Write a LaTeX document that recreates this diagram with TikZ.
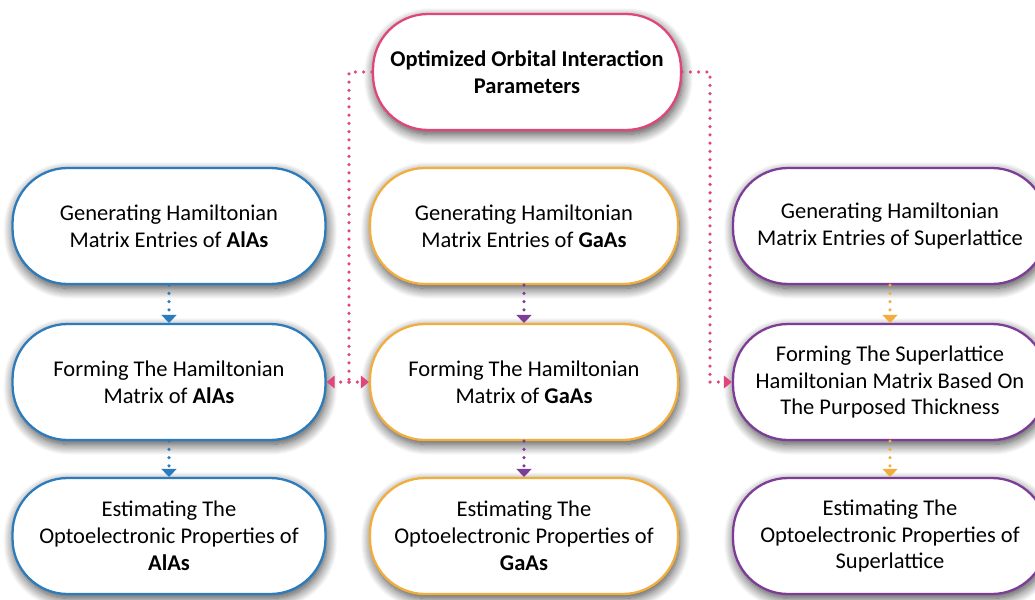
\documentclass[tikz,border=0pt]{standalone}
\usepackage{fontspec}
\setmainfont{Carlito}
\usetikzlibrary{arrows.meta,shadows.blur}

\definecolor{alblue}{HTML}{2B7BBD}
\definecolor{gaorange}{HTML}{F2AE3C}
\definecolor{slpurple}{HTML}{7D3C98}
\definecolor{optpink}{HTML}{E0457B}

\begin{document}
\begin{tikzpicture}
  [
    x=0.02cm, y=-0.02cm,
    font=\fontsize{12.8}{15.3}\selectfont,
    box/.style={draw,line width=1.3pt,fill=white,rounded corners=1.1cm,
      minimum height=2.32cm,align=center,
      blur shadow={shadow blur steps=12,shadow blur radius=6pt,shadow xshift=0.8pt,shadow yshift=-2.5pt,shadow opacity=75}},
    stepline/.style={line width=2pt,dash pattern=on 0pt off 4.7pt,line cap=round,
      -{Triangle[width=8.5pt,length=4.5pt]}},
    link/.style={optpink,line width=2pt,dash pattern=on 0pt off 4.7pt,line cap=round},
    linktip/.style={link,-{Triangle[width=7pt,length=4.5pt]}},
  ]

  \useasboundingbox (0,0) rectangle (1035,599);

  % parameters on top
  \node(opt)[box,draw=optpink,minimum width=6.16cm,font=\fontsize{12.8}{15.3}\selectfont\bfseries] at (527,72)
    {Optimized Orbital Interaction\\Parameters};

  % AlAs column
  \node(a1)[box,draw=alblue,minimum width=6.26cm] at (169,226)
    {Generating Hamiltonian\\Matrix Entries of \textbf{AlAs}};
  \node(a2)[box,draw=alblue,minimum width=6.26cm] at (169,382)
    {Forming The Hamiltonian\\Matrix of \textbf{AlAs}};
  \node(a3)[box,draw=alblue,minimum width=6.26cm] at (169,536)
    {Estimating The\\Optoelectronic Properties of\\\textbf{AlAs}};

  % GaAs column
  \node(g1)[box,draw=gaorange,minimum width=6.16cm] at (524,226)
    {Generating Hamiltonian\\Matrix Entries of \textbf{GaAs}};
  \node(g2)[box,draw=gaorange,minimum width=6.16cm] at (524,382)
    {Forming The Hamiltonian\\Matrix of \textbf{GaAs}};
  \node(g3)[box,draw=gaorange,minimum width=6.16cm] at (524,536)
    {Estimating The\\Optoelectronic Properties of\\\textbf{GaAs}};

  % superlattice column
  \node(s1)[box,draw=slpurple,minimum width=6.28cm] at (890,226)
    {Generating Hamiltonian\\Matrix Entries of Superlattice};
  \node(s2)[box,draw=slpurple,minimum width=6.28cm] at (890,382)
    {Forming The Superlattice\\Hamiltonian Matrix Based On\\The Purposed Thickness};
  \node(s3)[box,draw=slpurple,minimum width=6.28cm] at (890,536)
    {Estimating The\\Optoelectronic Properties of\\Superlattice};

  % steps inside each column
  \draw[stepline,alblue] (a1) -- (a2);
  \draw[stepline,alblue] (a2) -- (a3);
  \draw[stepline,slpurple] (g1) -- (g2);
  \draw[stepline,slpurple] (g2) -- (g3);
  \draw[stepline,gaorange] (s1) -- (s2);
  \draw[stepline,gaorange] (s2) -- (s3);

  % parameters feed the matrices
  \coordinate (jl) at (349,382);
  \coordinate (jr) at (710,382);
  \draw[link] (opt.west) -| (jl);
  \draw[linktip] (jl) -- (a2.east);
  \draw[linktip] (jl) -- (g2.west);
  \draw[link] (opt.east) -| (jr);
  \draw[linktip] (jr) -- (s2.west);

\end{tikzpicture}
\end{document}
